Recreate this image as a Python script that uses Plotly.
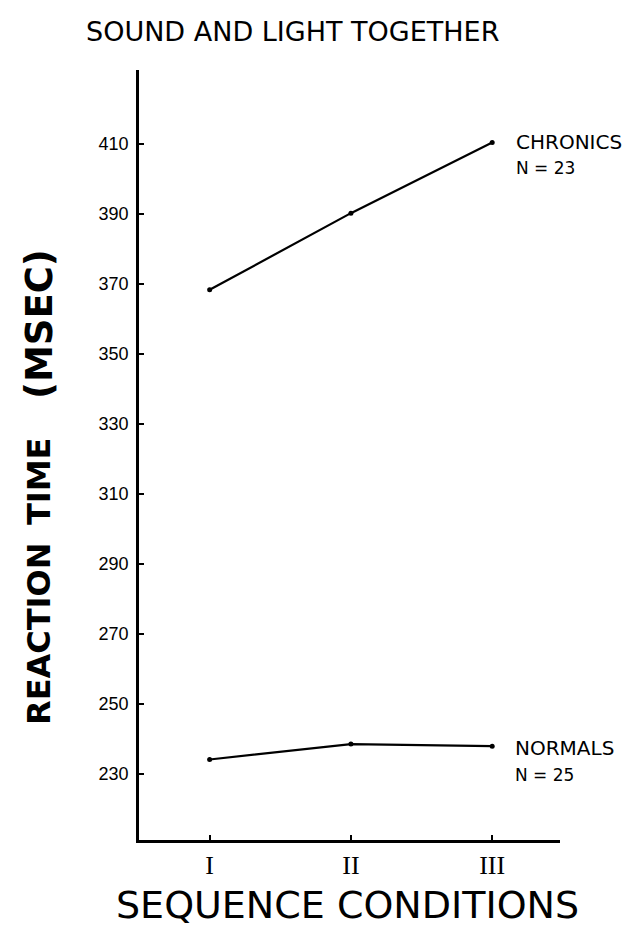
import plotly.graph_objects as go

conditions = [1, 2, 3]
tick_labels = ["I", "II", "III"]
chronics = [368.2, 390.1, 410.3]
normals = [234.0, 238.4, 237.8]
y_ticks = [230, 250, 270, 290, 310, 330, 350, 370, 390, 410]

fig = go.Figure()
for vals in (chronics, normals):
    fig.add_trace(go.Scatter(
        x=conditions, y=vals, mode="lines+markers",
        line=dict(color="black", width=2.2),
        marker=dict(color="black", size=5),
        showlegend=False,
    ))

sans = "Liberation Sans"
wide = "DejaVu Sans"
fig.update_layout(
    width=628, height=937,
    margin=dict(l=139, r=68, t=70, b=97),
    paper_bgcolor="white", plot_bgcolor="white",
    xaxis=dict(
        range=[0.5, 3.48], tickvals=conditions, ticktext=tick_labels,
        showline=True, linecolor="black", linewidth=2.5,
        ticks="inside", ticklen=5, tickwidth=2, tickcolor="black",
        showgrid=False, zeroline=False, ticklabelstandoff=0,
        tickfont=dict(family="Liberation Serif", size=26, color="black"),
    ),
    yaxis=dict(
        range=[211, 431], tickvals=y_ticks,
        showline=True, linecolor="black", linewidth=2.5,
        ticks="inside", ticklen=5, tickwidth=2, tickcolor="black",
        showgrid=False, zeroline=False, ticklabelstandoff=4,
        tickfont=dict(family=sans, size=18, color="black"),
    ),
)

# annotations given in pixel positions, converted to paper coordinates
W, H = 628, 937
l, r, t, b = 139, 68, 70, 97
pw, ph = W - l - r, H - t - b

def add_text(text, px, py, size, family, xanchor="center", angle=0):
    fig.add_annotation(
        text=text, x=(px - l) / pw, y=1 - (py - t) / ph,
        xref="paper", yref="paper", xanchor=xanchor, yanchor="middle",
        textangle=angle, showarrow=False,
        font=dict(family=family, size=size, color="black"),
    )

add_text("SOUND AND LIGHT TOGETHER", 292, 31, 27, wide)
add_text("<b>REACTION</b>", 39, 634, 32, wide, angle=-90)
add_text("<b>TIME</b>", 39, 482, 32, wide, angle=-90)
add_text("<b>(MSEC)</b>", 39, 324, 37, wide, angle=-90)
add_text("SEQUENCE CONDITIONS", 347, 905, 38, wide)
add_text("CHRONICS", 514, 142, 20, wide, xanchor="left")
add_text("N = 23", 514, 168, 17, wide, xanchor="left")
add_text("NORMALS", 513, 748, 20, wide, xanchor="left")
add_text("N = 25", 513, 775, 17, wide, xanchor="left")

fig.write_html("out.html")
